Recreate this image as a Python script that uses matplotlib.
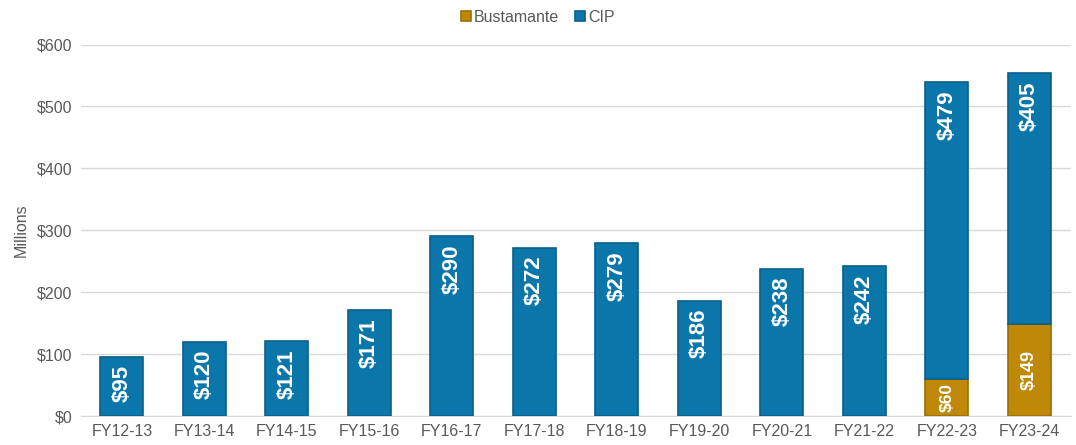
import matplotlib.pyplot as plt
from matplotlib.ticker import FuncFormatter
import numpy as np

plt.rcParams["font.family"] = ["Liberation Sans", "DejaVu Sans"]

years = ["FY12-13", "FY13-14", "FY14-15", "FY15-16", "FY16-17", "FY17-18",
         "FY18-19", "FY19-20", "FY20-21", "FY21-22", "FY22-23", "FY23-24"]
bustamante = [0, 0, 0, 0, 0, 0, 0, 0, 0, 0, 60, 149]
cip = [95, 120, 121, 171, 290, 272, 279, 186, 238, 242, 479, 405]

blue = "#0B76AA"
gold = "#C08807"
gray = "#595959"

fig, ax = plt.subplots(figsize=(10.76, 4.45), dpi=100)
fig.subplots_adjust(left=0.075, right=0.995, top=0.90, bottom=0.065)

x = np.arange(len(years))
w = 0.52
b1 = ax.bar(x, bustamante, w, color=gold, edgecolor="#9A6E06", linewidth=1.2, label="Bustamante", zorder=3)
b2 = ax.bar(x, cip, w, bottom=bustamante, color=blue, edgecolor="#0A5F8A", linewidth=1.2, label="CIP", zorder=3)

for i in x:
    if bustamante[i] > 0:
        ax.text(i, bustamante[i] / 2, f"${bustamante[i]}", rotation=90, ha="center", va="center",
                color="white", fontsize=12.5 if bustamante[i] < 100 else 13, fontweight="bold", zorder=4)
    top = bustamante[i] + cip[i]
    ax.text(i, top - 13, f"${cip[i]}", rotation=90, ha="center", va="top",
            color="white", fontsize=16, fontweight="bold", zorder=4)

ax.set_ylim(0, 600)
ax.set_xlim(-0.5, len(years) - 0.5)
ax.set_yticks(range(0, 601, 100))
ax.yaxis.set_major_formatter(FuncFormatter(lambda v, p: f"${v:.0f}"))
ax.set_xticks(x)
ax.set_xticklabels(years)
ax.tick_params(axis="both", length=0, labelsize=11.5, colors=gray, pad=6)
ax.grid(axis="y", color="#D9D9D9", linewidth=1, zorder=0)
for s in ["top", "right", "left"]:
    ax.spines[s].set_visible(False)
ax.spines["bottom"].set_color("#D9D9D9")
ax.set_ylabel("Millions", color=gray, fontsize=11.5, labelpad=6)

leg = fig.legend(handles=[b1, b2], loc="upper center", bbox_to_anchor=(0.5, 1.01), ncol=2,
                 frameon=False, fontsize=11.5, handlelength=0.6, handleheight=0.6,
                 handletextpad=0.2, columnspacing=1.0)
for t in leg.get_texts():
    t.set_color(gray)

fig.savefig("out.png", dpi=100)
